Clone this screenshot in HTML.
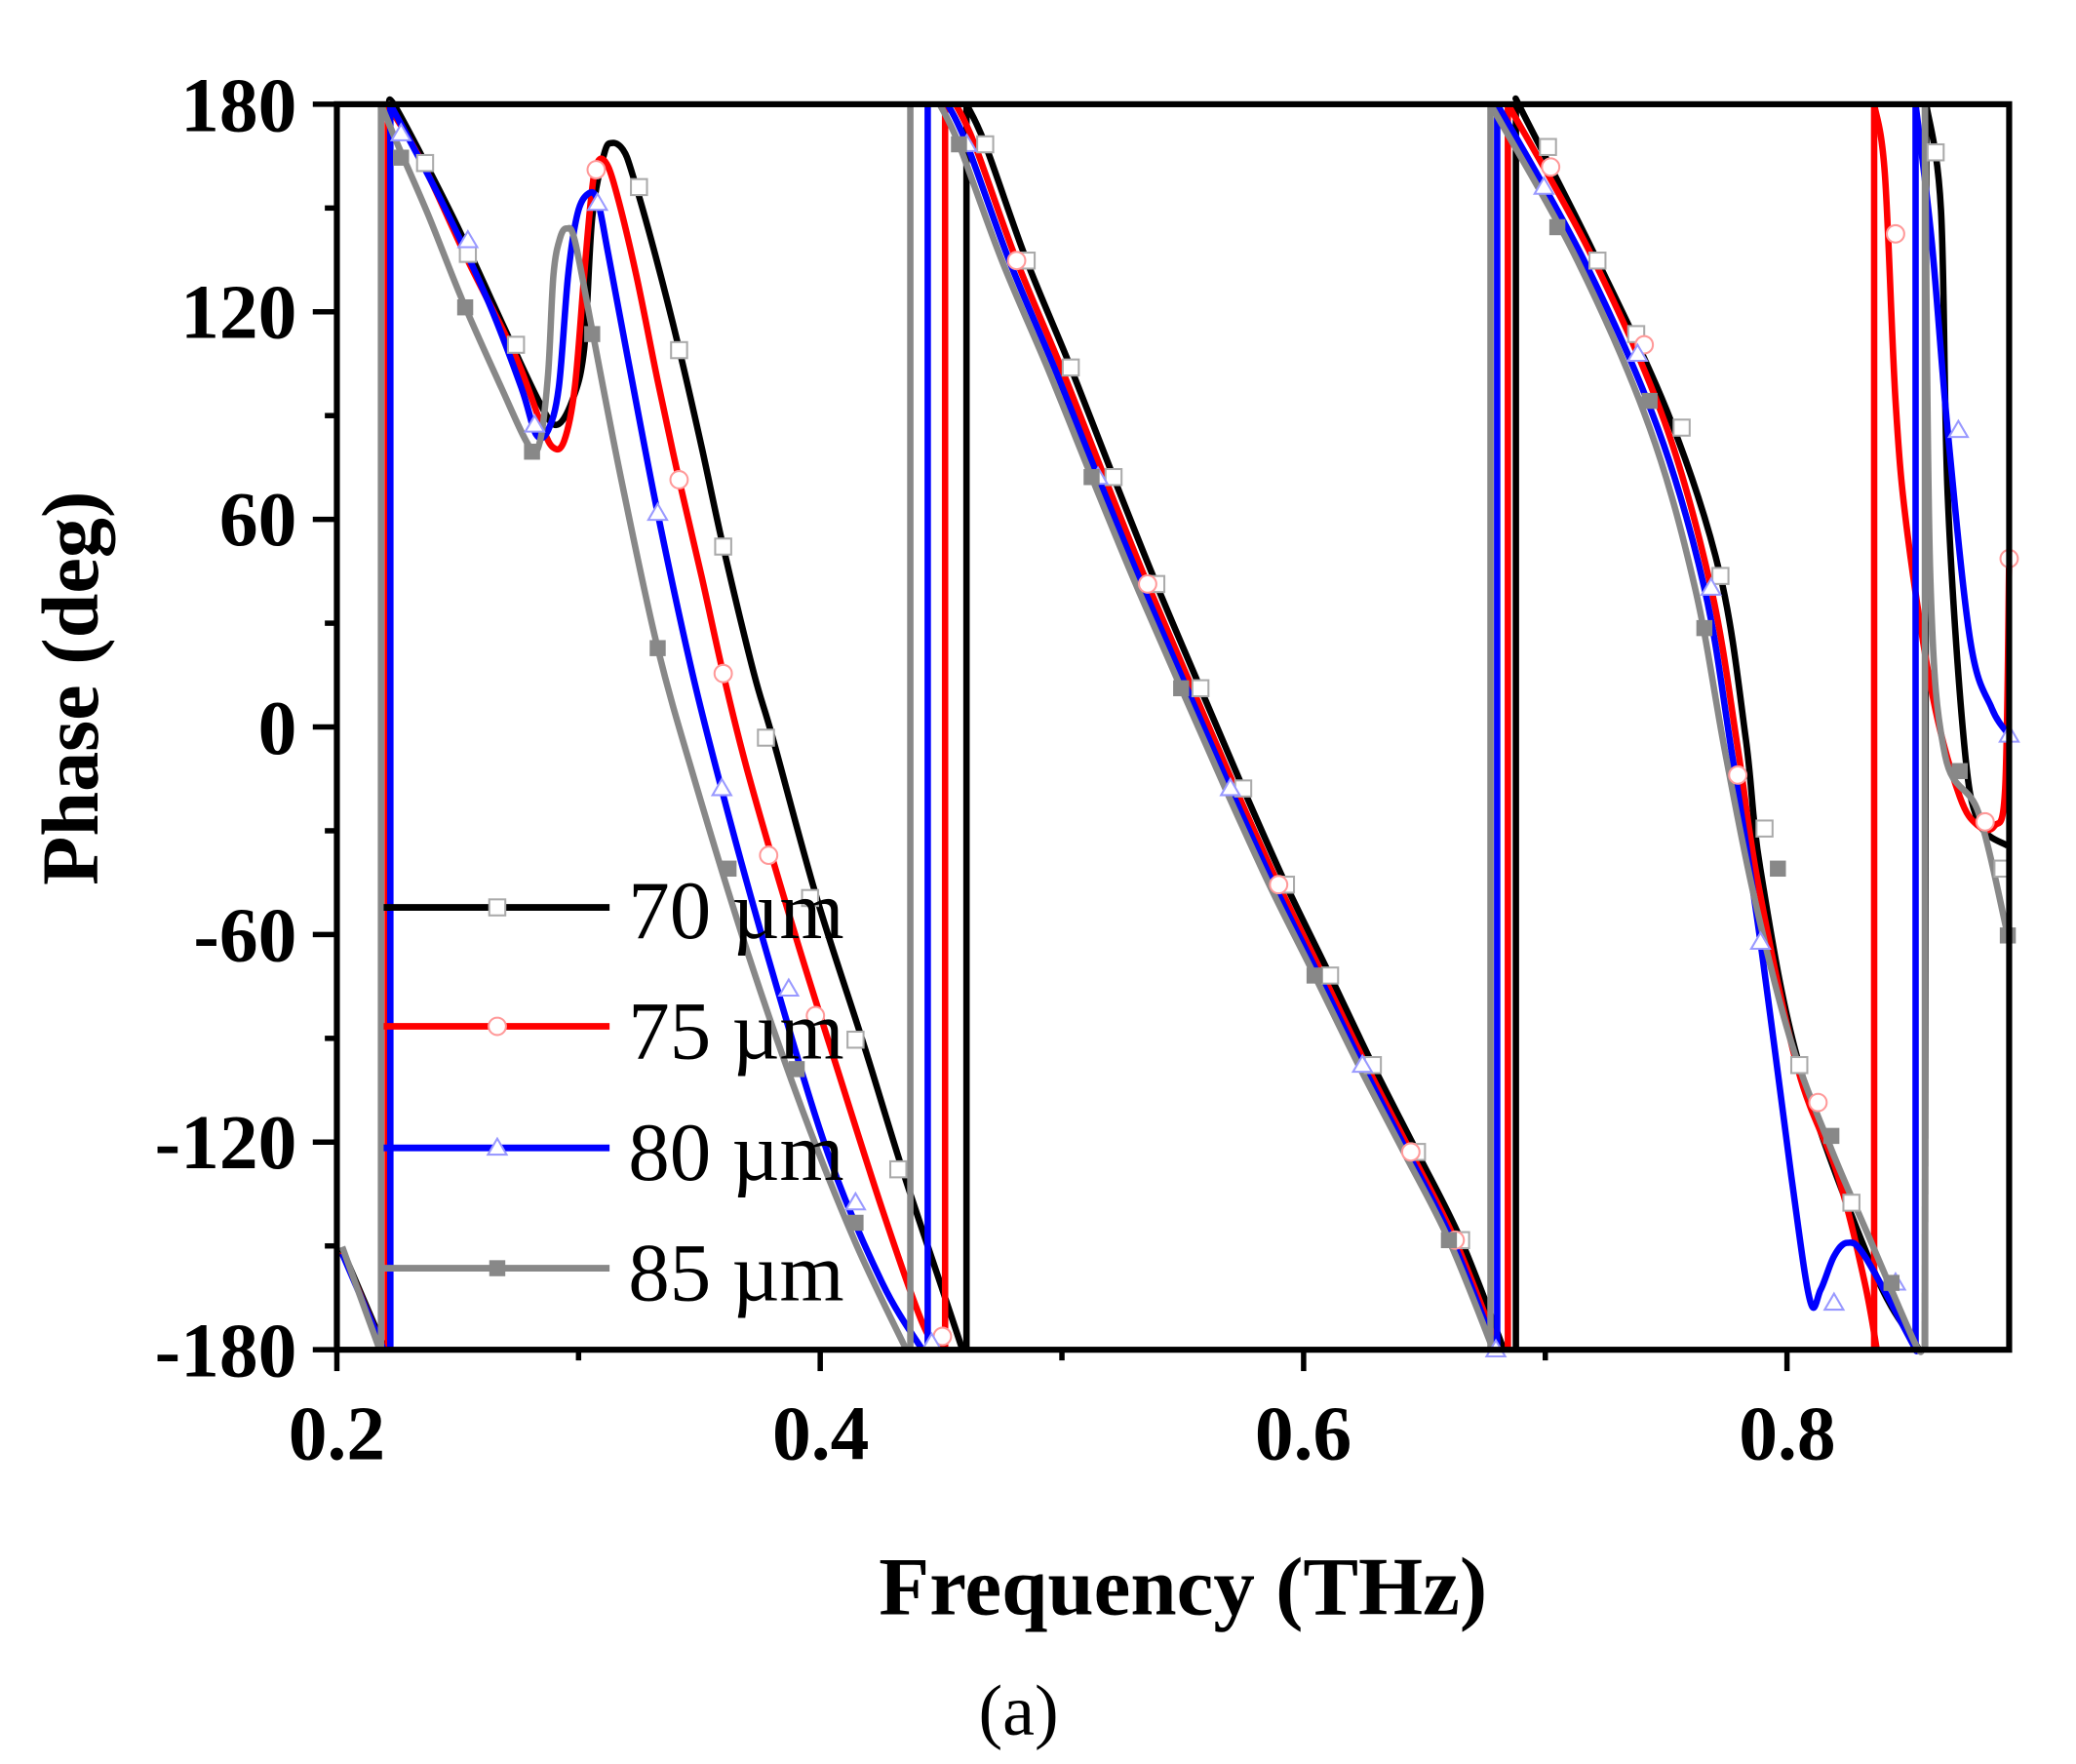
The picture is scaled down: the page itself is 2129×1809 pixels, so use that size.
<!DOCTYPE html>
<html><head><meta charset="utf-8"><style>
html,body{margin:0;padding:0;background:#fff;}
svg{display:block;}
</style></head><body>
<svg id="s" xmlns="http://www.w3.org/2000/svg" width="2129" height="1809" viewBox="0 0 1553 1320" preserveAspectRatio="none">
<rect width="1553" height="1320" fill="#fff"/>
<g id="series"></g>
<g id="markers"></g>
<g stroke="#000" stroke-width="4.5" fill="none">
<rect x="252" y="78" width="1251" height="932"/>
</g>
<g id="ticks" stroke="#000" stroke-width="4"></g>
<g font-family="'Liberation Serif',serif" font-weight="bold" font-size="58" fill="#000" text-anchor="end">
<text x="222" y="98">180</text>
<text x="222" y="253">120</text>
<text x="222" y="408">60</text>
<text x="222" y="564">0</text>
<text x="222" y="719">-60</text>
<text x="222" y="874">-120</text>
<text x="222" y="1030">-180</text>
</g>
<g font-family="'Liberation Serif',serif" font-weight="bold" font-size="58" fill="#000" text-anchor="middle">
<text x="252" y="1092">0.2</text>
<text x="614" y="1092">0.4</text>
<text x="975" y="1092">0.6</text>
<text x="1337" y="1092">0.8</text>
</g>
<text x="885" y="1208" font-family="'Liberation Serif',serif" font-weight="bold" font-size="62" text-anchor="middle">Frequency (THz)</text>
<text transform="translate(73,515) rotate(-90)" font-family="'Liberation Serif',serif" font-weight="bold" font-size="60" text-anchor="middle">Phase (deg)</text>
<text x="762" y="1298" font-family="'Liberation Serif',serif" font-size="54" text-anchor="middle">(a)</text>
<g stroke-width="5">
<line x1="287" y1="679" x2="456" y2="679" stroke="#000"/>
<line x1="287" y1="768" x2="456" y2="768" stroke="#f00"/>
<line x1="287" y1="859" x2="456" y2="859" stroke="#00f"/>
<line x1="287" y1="949" x2="456" y2="949" stroke="#888"/>
</g>
<rect x="366" y="673" width="12" height="12" fill="#fff" stroke="#aaa" stroke-width="1.5"/>
<circle cx="372" cy="768" r="6.5" fill="#fff" stroke="#f99" stroke-width="1.5"/>
<polygon points="372,852 379,864 365,864" fill="#fff" stroke="#99f" stroke-width="1.5"/>
<rect x="366" y="943" width="12" height="12" fill="#888"/>
<g font-family="'Liberation Serif',serif" font-size="62" fill="#000">
<text x="470" y="702">70 µm</text>
<text x="470" y="792">75 µm</text>
<text x="470" y="883">80 µm</text>
<text x="470" y="973">85 µm</text>
</g>
</svg>
<script>
(function(){
var NS="http://www.w3.org/2000/svg";
function cr(p){
 var d="M"+p[0][0]+","+p[0][1];
 for(var i=0;i<p.length-1;i++){
  var p0=p[i-1]||p[i],p1=p[i],p2=p[i+1],p3=p[i+2]||p2;
  var c1=[p1[0]+(p2[0]-p0[0])/6,p1[1]+(p2[1]-p0[1])/6];
  var c2=[p2[0]-(p3[0]-p1[0])/6,p2[1]-(p3[1]-p1[1])/6];
  d+=" C"+c1[0].toFixed(1)+","+c1[1].toFixed(1)+" "+c2[0].toFixed(1)+","+c2[1].toFixed(1)+" "+p2[0]+","+p2[1];
 }
 return d;
}
function off(pts,a,b){return pts.map(function(q){return [+(q[0]+a+(b-a)*(q[1]-78)/932).toFixed(1),q[1]];});}
var blackC=[[723,78],[737,108],[768,195],[801,275],[833,357],[865,437],[898,515],[930,590],[962,662],[995,730],[1027,797],[1060,862],[1093,928],[1125,1010]];
var blue3=[[1120,78],[1185,195],[1240,320],[1275,440],[1295,560],[1317,705],[1340,880],[1354,973],[1362,965],[1372,940],[1382,930],[1395,940],[1430,1004],[1433,1010]];
var S={
 black:{c:"#000",segs:[
  [[256,935],[288,1010]],[[291,1010],[291,78]],
  [[291,78],[297,82],[340,165],[378,247],[403,300],[416,318],[428,300],[437,261],[443,163],[452,115],[458,107],[466,112],[473,130],[490,190],[508,261],[525,335],[541,409],[564,504],[578,552],[611,672],[645,778],[675,875],[705,965],[720,1010]],
  [[723,1010],[723,78]],
  blackC,
  [[1134,1010],[1134,78]],
  [[1136,78],[1139,84],[1195,195],[1250,315],[1287,431],[1306,553],[1317,651],[1346,797],[1401,949],[1432,1004],[1436,1010]],
  [[1440,1010],[1441,78]],
  [[1441,78],[1452,157],[1457,370],[1469,553],[1480,615],[1502,633]]]},
 red:{c:"#f00",segs:[
  [[256,937],[287,1010]],[[290,1010],[290,78]],
  [[290,78],[316,122],[350,195],[385,265],[405,318],[414,335],[422,330],[430,290],[437,206],[442,150],[446,124],[452,120],[460,140],[476,206],[492,285],[508,359],[525,432],[541,504],[560,580],[595,700],[628,805],[660,905],[690,990],[704,1010]],
  [[707,1010],[707,78]],
  off(blackC,-8,-4),
  [[1128,1010],[1128,78]],
  [[1128,78],[1190,190],[1245,315],[1280,440],[1300,560],[1315,660],[1345,800],[1375,880],[1395,960],[1404,1010]],
  [[1402,1010],[1402,78]],
  [[1402,78],[1410,130],[1418,300],[1427,400],[1446,522],[1466,596],[1480,618],[1492,618],[1500,590],[1503,419]]]},
 blue:{c:"#00f",segs:[
  [[256,938],[287,1010]],[[292,1010],[292,78]],
  [[292,78],[330,150],[365,225],[390,290],[401,325],[410,322],[418,290],[425,206],[432,160],[440,145],[447,150],[455,190],[470,270],[492,384],[518,504],[545,610],[580,735],[620,865],[660,960],[690,1010]],
  [[694,1010],[694,78]],
  off(blackC,-14,-6),
  [[1120,1010],[1120,78]],
  blue3,
  [[1433,1010],[1433,78]],
  [[1433,78],[1445,180],[1457,322],[1474,480],[1490,530],[1503,550]]]},
 gray:{c:"#888",segs:[
  [[256,933],[284,1010]],[[285,1010],[285,78]],
  [[285,78],[297,107],[320,160],[346,225],[375,290],[396,334],[404,330],[410,280],[414,206],[419,178],[424,171],[430,180],[443,247],[465,360],[492,485],[520,585],[560,715],[600,830],[640,930],[678,1010]],
  [[681,1010],[681,78]],
  off(blackC,-20,-8),
  [[1115,1010],[1115,78]],
  [[1115,78],[1180,195],[1234,320],[1268,440],[1290,560],[1312,670],[1340,780],[1370,860],[1400,930],[1432,1004],[1438,1010]],
  [[1440,1010],[1440,78]],
  [[1440,78],[1444,431],[1455,565],[1480,608],[1502,700]]]}
};
var g=document.getElementById("series");
["black","red","blue","gray"].forEach(function(k){
 S[k].segs.forEach(function(p){
  var e=document.createElementNS(NS,"path");
  e.setAttribute("d",cr(p));e.setAttribute("fill","none");e.setAttribute("stroke",S[k].c);
  e.setAttribute("stroke-width","4.8");e.setAttribute("stroke-linejoin","round");
  g.appendChild(e);
 });
});
var m=document.getElementById("markers");
function sq(x,y,fill,st){var e=document.createElementNS(NS,"rect");e.setAttribute("x",x-6);e.setAttribute("y",y-6);e.setAttribute("width",12);e.setAttribute("height",12);e.setAttribute("fill",fill);if(st){e.setAttribute("stroke",st);e.setAttribute("stroke-width",1.5);}m.appendChild(e);}
function ci(x,y){var e=document.createElementNS(NS,"circle");e.setAttribute("cx",x);e.setAttribute("cy",y);e.setAttribute("r",6.5);e.setAttribute("fill","#fff");e.setAttribute("stroke","#f99");e.setAttribute("stroke-width",1.5);m.appendChild(e);}
function tr(x,y){var e=document.createElementNS(NS,"polygon");e.setAttribute("points",x+","+(y-7)+" "+(x+7)+","+(y+5)+" "+(x-7)+","+(y+5));e.setAttribute("fill","#fff");e.setAttribute("stroke","#99f");e.setAttribute("stroke-width",1.5);m.appendChild(e);}
function pick(pts,idx){return idx.map(function(i){return pts[i];});}
[[318,122],[350,190],[386,258],[478,140],[508,262],[541,409],[573,552],[606,672],[640,778],[672,875],[1158,110],[1195,195],[1224,250],[1258,320],[1287,431],[1320,620],[1346,797],[1385,900],[1448,114],[1498,650]].forEach(function(q){sq(q[0],q[1],"#fff","#aaa");});
pick(blackC,[1,2,3,4,5,6,7,8,9,10,11,12]).forEach(function(q){sq(q[0],q[1],"#fff","#aaa");});
[[446,127],[508,359],[541,504],[575,640],[610,760],[705,1000],[1160,125],[1230,258],[1300,580],[1360,825],[1418,175],[1485,615],[1503,418]].forEach(function(q){ci(q[0],q[1]);});
pick(off(blackC,-8,-4),[2,5,8,11,12]).forEach(function(q){ci(q[0],q[1]);});
[[300,100],[350,180],[400,318],[447,152],[492,384],[540,590],[590,740],[640,900],[697,1005],[1155,140],[1225,265],[1280,440],[1317,705],[1372,975],[1418,960],[1465,322],[1503,550]].forEach(function(q){tr(q[0],q[1]);});
pick(off(blackC,-14,-6),[1,4,7,10,13]).forEach(function(q){tr(q[0],q[1]);});
[[300,118],[348,230],[398,338],[443,250],[492,485],[545,650],[596,800],[640,915],[1165,170],[1234,300],[1275,470],[1330,650],[1370,850],[1415,960],[1466,577],[1502,700]].forEach(function(q){sq(q[0],q[1],"#888",null);});
pick(off(blackC,-20,-8),[1,4,6,9,12]).forEach(function(q){sq(q[0],q[1],"#888",null);});
var t=document.getElementById("ticks");
function ln(x1,y1,x2,y2){var e=document.createElementNS(NS,"line");e.setAttribute("x1",x1);e.setAttribute("y1",y1);e.setAttribute("x2",x2);e.setAttribute("y2",y2);t.appendChild(e);}
for(var v=-180;v<=180;v+=30){var y=544-v*(932/360);ln(252,y,v%60===0?234:243,y);}
for(var i=0;i<7;i++){var x=252+i*0.1*1808;ln(x,1010,x,i%2===0?1026:1018);}
})();
</script>
</body></html>
